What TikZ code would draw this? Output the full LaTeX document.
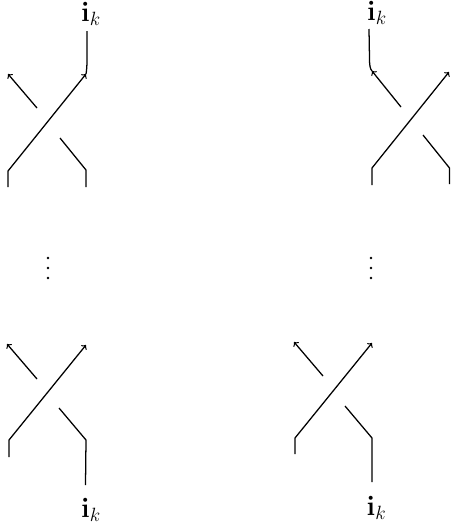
\documentclass[tikz,border=0pt]{standalone}
\usepackage{amsmath}
\tikzset{strand/.style={line width=0.95pt,->,>={to[scale=1.35]}},plainstrand/.style={line width=0.95pt},
lab/.style={font=\fontsize{20}{24}\selectfont,inner sep=0pt},
dotmark/.style={circle,fill=black,inner sep=0pt,minimum size=1.9pt}}
\begin{document}
\begin{tikzpicture}[x=0.75pt,y=-0.75pt]
\useasboundingbox (0,0) rectangle (451,529);
% top left
\node[lab] (la) at (91,14) {$\mathbf{i}_k$};
\coordinate (a1) at (8,187); \coordinate (a2) at (8,171); \coordinate (a3) at (86,74);
\coordinate (a4) at (86,187); \coordinate (a5) at (86,170); \coordinate (a6) at (60,138);
\coordinate (a7) at (37,108); \coordinate (a8) at (8,74); \coordinate (a9) at (87,31);
\draw[strand] (a1) -- (a2) -- (a3);
\draw[plainstrand] (a4) -- (a5) -- (a6);
\draw[strand] (a7) -- (a8);
\draw[plainstrand] (a9) -- (87,60) .. controls (87,67) and (86.5,71) .. (a3);
% top right
\node[lab] (lb) at (377,13) {$\mathbf{i}_k$};
\coordinate (b1) at (372,185); \coordinate (b2) at (372,168); \coordinate (b3) at (449,72);
\coordinate (b4) at (449.5,184); \coordinate (b5) at (449.5,168); \coordinate (b6) at (423,135);
\coordinate (b7) at (401,107); \coordinate (b8) at (372,71); \coordinate (b9) at (369,29);
\draw[strand] (b1) -- (b2) -- (b3);
\draw[plainstrand] (b4) -- (b5) -- (b6);
\draw[strand] (b7) -- (b8);
\draw[plainstrand] (b9) -- (369.5,58) .. controls (369.5,65) and (370,69) .. (b8);
% dots
\foreach \y [count=\i] in {258,268,278} {
  \node[dotmark] (da\i) at (48,\y) {};
  \node[dotmark] (db\i) at (371,\y) {};
}
% bottom left
\node[lab] (lc) at (91,510) {$\mathbf{i}_k$};
\coordinate (c1) at (9,457); \coordinate (c2) at (9,440); \coordinate (c3) at (86,345);
\coordinate (c4) at (85.5,485); \coordinate (c5) at (86,440); \coordinate (c6) at (59,408);
\coordinate (c7) at (37,379); \coordinate (c8) at (7,344);
\draw[strand] (c1) -- (c2) -- (c3);
\draw[plainstrand] (c4) -- (c5) -- (c6);
\draw[strand] (c7) -- (c8);
% bottom right
\node[lab] (ld) at (376.5,508) {$\mathbf{i}_k$};
\coordinate (d1) at (295,454); \coordinate (d2) at (295,438); \coordinate (d3) at (372,343);
\coordinate (d4) at (372,482); \coordinate (d5) at (372,438); \coordinate (d6) at (345,406);
\coordinate (d7) at (323,376); \coordinate (d8) at (294,342);
\draw[strand] (d1) -- (d2) -- (d3);
\draw[plainstrand] (d4) -- (d5) -- (d6);
\draw[strand] (d7) -- (d8);
\end{tikzpicture}
\end{document}
